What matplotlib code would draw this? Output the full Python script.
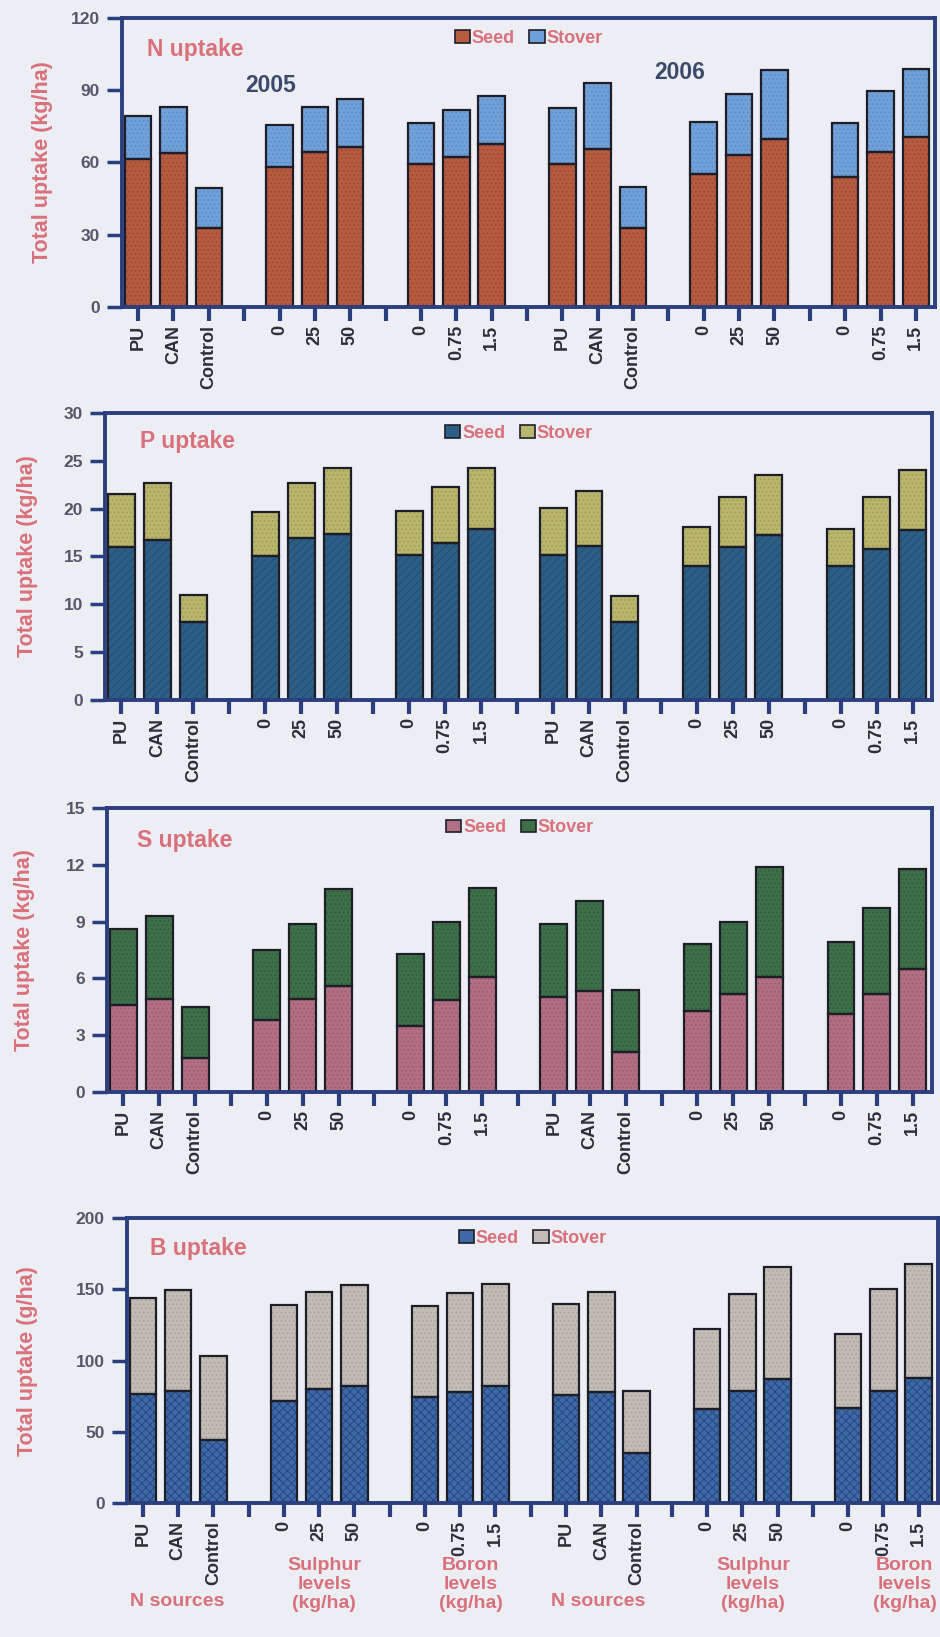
import numpy as np
import matplotlib.pyplot as plt
from matplotlib.patches import Patch

plt.rcParams['font.family'] = ['Liberation Sans', 'DejaVu Sans']
plt.rcParams['hatch.linewidth'] = 0.6

# x tick labels (blank entries are the separator ticks between groups)
tick_labels = ['PU', 'CAN', 'Control', '', '0', '25', '50', '', '0', '0.75', '1.5', '',
               'PU', 'CAN', 'Control', '', '0', '25', '50', '', '0', '0.75', '1.5']

# values: 2005 (9 bars) then 2006 (9 bars)
n_seed = [61.3, 63.8, 32.9, 58.0, 64.2, 66.6, 59.4, 62.4, 67.5,
          59.3, 65.8, 32.8, 55.1, 63.3, 69.7, 54.0, 64.4, 70.6]
n_stover = [18.0, 19.4, 16.3, 17.6, 18.7, 19.7, 16.9, 19.2, 19.9,
            23.4, 27.0, 16.9, 21.9, 25.2, 28.5, 22.2, 25.2, 28.1]

p_seed = [16.0, 16.7, 8.2, 15.0, 16.9, 17.4, 15.2, 16.4, 17.9,
          15.2, 16.1, 8.2, 14.0, 16.0, 17.2, 14.0, 15.8, 17.8]
p_stover = [5.5, 6.0, 2.8, 4.7, 5.8, 6.8, 4.6, 5.9, 6.4,
            4.9, 5.7, 2.7, 4.1, 5.2, 6.3, 3.9, 5.4, 6.2]

s_seed = [4.6, 4.9, 1.8, 3.8, 4.9, 5.6, 3.5, 4.85, 6.1,
          5.0, 5.35, 2.1, 4.3, 5.2, 6.1, 4.1, 5.2, 6.5]
s_stover = [4.0, 4.4, 2.7, 3.7, 4.0, 5.1, 3.8, 4.15, 4.7,
            3.9, 4.75, 3.3, 3.5, 3.8, 5.8, 3.8, 4.5, 5.3]

b_seed = [76.7, 78.4, 44.0, 71.8, 80.0, 82.3, 74.2, 77.9, 82.0,
          76.0, 78.0, 35.0, 66.0, 79.0, 87.0, 67.0, 79.0, 88.0]
b_stover = [67.2, 71.3, 59.4, 67.4, 68.5, 70.9, 64.3, 69.9, 72.0,
            64.0, 70.0, 44.0, 56.0, 68.0, 79.0, 52.0, 71.0, 80.0]

BG = '#eceef4'
NAVY = '#2b3f7e'
PINK = '#d9717a'
EDGE = '#1e1e28'

fig = plt.figure(figsize=(9.4, 16.37), dpi=100, facecolor=BG)

panels = [
    dict(rect=[0.130, 0.8125, 0.865, 0.1765], seed=n_seed, stover=n_stover,
         cols=('#b65a40', '#9a4530', '#6fa0d8', '#5a88c0'), hatches=('....', '....'),
         ylim=120, yticks=[0, 30, 60, 90, 120], title='N uptake',
         ylabel='Total uptake (kg/ha)', labx=-0.085, tpos=(0.03, 0.89)),
    dict(rect=[0.112, 0.5724, 0.880, 0.1753], seed=p_seed, stover=p_stover,
         cols=('#2d5e85', '#234a6a', '#b9b56c', '#9c9a50'), hatches=('////', '....'),
         ylim=30, yticks=[0, 5, 10, 15, 20, 25, 30], title='P uptake',
         ylabel='Total uptake (kg/ha)', labx=-0.081, tpos=(0.042, 0.90)),
    dict(rect=[0.114, 0.3329, 0.878, 0.1735], seed=s_seed, stover=s_stover,
         cols=('#b26f83', '#9a5a6e', '#3d6f49', '#30593a'), hatches=('....', '....'),
         ylim=15, yticks=[0, 3, 6, 9, 12, 15], title='S uptake',
         ylabel='Total uptake (kg/ha)', labx=-0.087, tpos=(0.036, 0.887)),
    dict(rect=[0.135, 0.0818, 0.863, 0.174], seed=b_seed, stover=b_stover,
         cols=('#3d69a8', '#24447a', '#c3bcb5', '#a8a098'), hatches=('xxxx', '....'),
         ylim=200, yticks=[0, 50, 100, 150, 200], title='B uptake',
         ylabel='Total uptake (g/ha)', labx=-0.110, tpos=(0.028, 0.895)),
]

ticks = np.arange(len(tick_labels))
bar_x = ticks[[i for i, t in enumerate(tick_labels) if t != '']]
width = 0.75

axes = []
for p in panels:
    ax = fig.add_axes(p['rect'])
    ax.set_facecolor(BG)
    seed = np.array(p['seed'])
    stover = np.array(p['stover'])
    c_seed, h_seed, c_stov, h_stov = p['cols']

    ax.bar(bar_x, seed, width, color=c_seed, hatch=p['hatches'][0], edgecolor=h_seed, linewidth=0)
    ax.bar(bar_x, stover, width, bottom=seed, color=c_stov, hatch=p['hatches'][1],
           edgecolor=h_stov, linewidth=0)
    ax.bar(bar_x, seed, width, fill=False, edgecolor=EDGE, linewidth=1.6)
    ax.bar(bar_x, stover, width, bottom=seed, fill=False, edgecolor=EDGE, linewidth=1.6)

    ax.set_xlim(-0.45, 22.55)
    ax.set_ylim(0, p['ylim'])
    ax.set_yticks(p['yticks'])
    ax.set_xticks(ticks)
    ax.set_xticklabels(tick_labels, rotation=90, fontsize=13, fontweight='bold', color='#2e2e3a')
    ax.set_yticklabels([str(v) for v in p['yticks']], fontweight='bold')
    ax.tick_params(axis='y', direction='out', length=11, width=2.5, color=NAVY,
                   labelsize=12.5, labelcolor='#55566a', pad=5)
    ax.tick_params(axis='x', direction='out', length=10, width=3, color=NAVY, pad=3)
    for sp in ax.spines.values():
        sp.set_color(NAVY)
        sp.set_linewidth(2.8)

    ax.set_ylabel(p['ylabel'], fontsize=15.5, fontweight='bold', color=PINK)
    ax.yaxis.set_label_coords(p['labx'], 0.5)
    ax.text(p['tpos'][0], p['tpos'][1], p['title'], transform=ax.transAxes, fontsize=16.5,
            fontweight='bold', color=PINK, va='center', ha='left')

    handles = [Patch(facecolor=c_seed, edgecolor=EDGE, linewidth=1.2),
               Patch(facecolor=c_stov, edgecolor=EDGE, linewidth=1.2)]
    leg = ax.legend(handles, ['Seed', 'Stover'], loc='center', bbox_to_anchor=(0.5, 0.93),
                    ncol=2, frameon=False, handlelength=0.85, handleheight=0.7,
                    handletextpad=0.1, columnspacing=0.8,
                    prop={'size': 13, 'weight': 'bold'})
    for t in leg.get_texts():
        t.set_color(PINK)
    axes.append(ax)

# year labels on the N panel
axes[0].text(0.183, 0.765, '2005', transform=axes[0].transAxes, fontsize=16.5,
             fontweight='bold', color='#3b4a6b', ha='center', va='center')
axes[0].text(0.686, 0.813, '2006', transform=axes[0].transAxes, fontsize=16.5,
             fontweight='bold', color='#3b4a6b', ha='center', va='center')

# group labels under the B panel
axb = axes[3]
trans = axb.get_xaxis_transform()
for xg in [0.97, 12.9]:
    axb.text(xg, -0.347, 'N sources', transform=trans, ha='center', va='center',
             fontsize=14, fontweight='bold', color=PINK)
for xg in [5.15, 17.3]:
    axb.text(xg, -0.19, 'Sulphur\nlevels\n(kg/ha)', transform=trans, ha='center', va='top',
             fontsize=14, fontweight='bold', color=PINK, linespacing=1.15)
for xg in [9.3, 21.6]:
    axb.text(xg, -0.19, 'Boron\nlevels\n(kg/ha)', transform=trans, ha='center', va='top',
             fontsize=14, fontweight='bold', color=PINK, linespacing=1.15)

fig.savefig('out.png', dpi=100, facecolor=BG)
